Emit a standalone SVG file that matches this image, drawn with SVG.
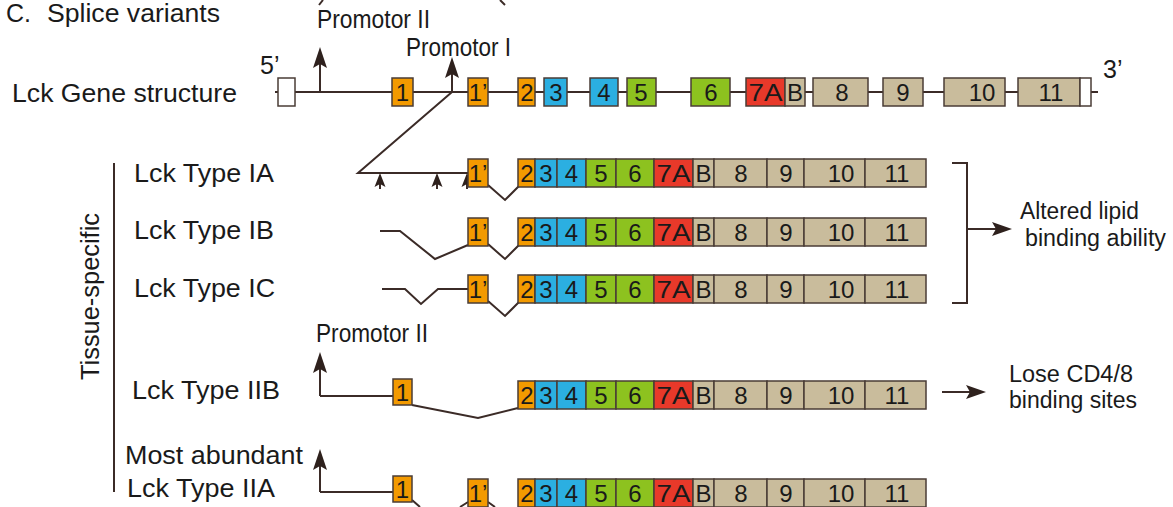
<svg xmlns="http://www.w3.org/2000/svg" xmlns:xlink="http://www.w3.org/1999/xlink" width="1173" height="507" viewBox="0 0 1173 507">
<style>
text{font-family:"Liberation Sans",Arial,sans-serif;fill:#1a1a1a}
.lab{font-size:25px}
.sm{font-size:23px}
.num{font-size:24px;text-anchor:middle}
.ln{fill:none;stroke:#3b2b27;stroke-width:2}
.box{stroke:#4a3c36;stroke-width:1.5}
.o{fill:#f39a00}.b{fill:#2bafe1}.g{fill:#8dc21f}.r{fill:#e8392a}.t{fill:#c9bc9c}.w{fill:#fff}
.ah{fill:#2e211d}
</style>
<defs>
<g id="tail">
<rect class="box o" x="518" y="0" width="17" height="28"/>
<rect class="box b" x="535" y="0" width="22" height="28"/>
<rect class="box b" x="557" y="0" width="29" height="28"/>
<rect class="box g" x="586" y="0" width="30" height="28"/>
<rect class="box g" x="616" y="0" width="38" height="28"/>
<rect class="box r" x="654" y="0" width="39" height="28"/>
<rect class="box t" x="693" y="0" width="21" height="28"/>
<rect class="box t" x="714" y="0" width="53" height="28"/>
<rect class="box t" x="767" y="0" width="37" height="28"/>
<rect class="box t" x="804" y="0" width="61" height="28"/>
<rect class="box t" x="865" y="0" width="61" height="28"/>
<text class="num" x="527" y="23">2</text>
<text class="num" x="546" y="23">3</text>
<text class="num" x="571.5" y="23">4</text>
<text class="num" x="601" y="23">5</text>
<text class="num" x="635" y="23">6</text>
<text class="num" x="673.5" y="23" textLength="34" lengthAdjust="spacingAndGlyphs">7A</text>
<text class="num" x="703.5" y="23">B</text>
<text class="num" x="741" y="23">8</text>
<text class="num" x="786" y="23">9</text>
<text class="num" x="841" y="23">10</text>
<text class="num" x="897" y="23">11</text>
</g>
<g id="ex1p">
<rect class="box o" x="468" y="0" width="20" height="28"/>
<text class="num" x="478" y="23">1’</text>
</g>
</defs>

<g id="title">
<text class="lab" x="6" y="22" font-size="26">C.</text>
<text class="lab" x="47" y="22" font-size="26" textLength="173" lengthAdjust="spacingAndGlyphs">Splice variants</text>
</g>

<g id="fragments">
<line class="ln" x1="323" y1="0" x2="319" y2="5" stroke-width="1.5"/>
<line class="ln" x1="500" y1="0" x2="505" y2="5" stroke-width="1.5"/>
</g>

<g id="gene-structure">
<text class="lab" x="12" y="102" textLength="225" lengthAdjust="spacingAndGlyphs">Lck Gene structure</text>
<text class="lab" x="260" y="74">5’</text>
<text class="lab" x="1103" y="78">3’</text>
<line class="ln" x1="275" y1="92" x2="1098" y2="92"/>
<rect class="box w" x="278" y="78" width="17" height="28"/>
<rect class="box o" x="392" y="78" width="21" height="28"/>
<rect class="box o" x="468" y="78" width="20" height="28"/>
<rect class="box o" x="518" y="78" width="17" height="28"/>
<rect class="box b" x="544" y="78" width="23" height="28"/>
<rect class="box b" x="590" y="78" width="28" height="28"/>
<rect class="box g" x="627" y="78" width="29" height="28"/>
<rect class="box g" x="691" y="78" width="39" height="28"/>
<rect class="box r" x="746" y="78" width="39" height="28"/>
<rect class="box t" x="785" y="78" width="20" height="28"/>
<rect class="box t" x="813" y="78" width="55" height="28"/>
<rect class="box t" x="883" y="78" width="40" height="28"/>
<rect class="box t" x="944" y="78" width="61" height="28"/>
<rect class="box t" x="1018" y="78" width="62" height="28"/>
<rect class="box w" x="1080" y="78" width="11" height="28"/>
<text class="num" x="402.5" y="101">1</text>
<text class="num" x="478" y="101">1’</text>
<text class="num" x="527" y="101">2</text>
<text class="num" x="556" y="101">3</text>
<text class="num" x="604" y="101">4</text>
<text class="num" x="641" y="101">5</text>
<text class="num" x="711" y="101">6</text>
<text class="num" x="765.5" y="101" textLength="34" lengthAdjust="spacingAndGlyphs">7A</text>
<text class="num" x="795" y="101">B</text>
<text class="num" x="842" y="101">8</text>
<text class="num" x="903" y="101">9</text>
<text class="num" x="982" y="101">10</text>
<text class="num" x="1051" y="101">11</text>
</g>

<g id="promotor-II-top">
<line class="ln" x1="320" y1="92" x2="320" y2="60"/>
<path class="ah" d="M320,47 L327,68 L320,64 L313,68 Z"/>
<text class="lab" x="317" y="28" textLength="113" lengthAdjust="spacingAndGlyphs">Promotor II</text>
</g>
<g id="promotor-I">
<line class="ln" x1="452" y1="92" x2="452" y2="70"/>
<path class="ah" d="M452,57 L459,78 L452,74 L445,78 Z"/>
<text class="lab" x="406" y="56" textLength="105" lengthAdjust="spacingAndGlyphs">Promotor I</text>
</g>

<g id="connectors">
<path class="ln" d="M452,92 L358,173 L468,173"/>
<path class="ln" d="M488,185 L505,200 L519,186"/>
<path class="ln" d="M380,231 L400,231 L435,259 L468,245"/>
<path class="ln" d="M488,244 L505,259 L519,245"/>
<path class="ln" d="M382,289 L405,289 L421,304 L438,289 L468,289"/>
<path class="ln" d="M488,301 L505,316 L519,302"/>
<path class="ln" d="M320,396 L320,364 M320,396 L393,396"/>
<path class="ln" d="M412,405 L478,418 L518,408"/>
<path class="ln" d="M320,492 L320,461 M320,492 L393,492"/>
<path class="ln" d="M412,500 L420,507 M460,507 L468,502 M488,502 L495,507" stroke-width="1.5"/>
<path class="ln" d="M114,163 L114,492"/>
<path class="ln" d="M952,163 L967,163 L967,303 L952,303 M967,229 L1000,229"/>
<path class="ah" d="M1012,229 L992,222 L996,229 L992,236 Z"/>
<line class="ln" x1="942" y1="392" x2="975" y2="392"/>
<path class="ah" d="M986,392 L966,385 L970,392 L966,399 Z"/>
<path class="ah" d="M320,352 L327,373 L320,369 L313,373 Z"/>
<path class="ah" d="M320,449 L327,470 L320,466 L313,470 Z"/>
<g id="ia-arrows">
<path class="ln" d="M380,182 V189 M437,182 V189 M467,182 V189" stroke-width="1.5"/>
<path class="ah" d="M380,173 L385.5,187 L380,184 L374.5,187 Z"/>
<path class="ah" d="M437,173 L442.5,187 L437,184 L431.5,187 Z"/>
<path class="ah" d="M467,173 L472.5,187 L467,184 L461.5,187 Z"/>
</g>
</g>

<g id="tissue-specific">
<text class="lab" transform="translate(99,380) rotate(-90)" font-size="27" textLength="167" lengthAdjust="spacingAndGlyphs">Tissue-specific</text>
</g>

<g id="type-IA">
<text class="lab" x="134" y="182" textLength="140" lengthAdjust="spacingAndGlyphs">Lck Type IA</text>
<use xlink:href="#ex1p" href="#ex1p" y="159"/>
<use xlink:href="#tail" href="#tail" y="159"/>
</g>
<g id="type-IB">
<text class="lab" x="134" y="239" textLength="140" lengthAdjust="spacingAndGlyphs">Lck Type IB</text>
<use xlink:href="#ex1p" href="#ex1p" y="218"/>
<use xlink:href="#tail" href="#tail" y="218"/>
</g>
<g id="type-IC">
<text class="lab" x="134" y="297" textLength="141" lengthAdjust="spacingAndGlyphs">Lck Type IC</text>
<use xlink:href="#ex1p" href="#ex1p" y="275"/>
<use xlink:href="#tail" href="#tail" y="275"/>
</g>
<g id="altered">
<text class="sm" x="1020" y="219" textLength="119" lengthAdjust="spacingAndGlyphs">Altered lipid</text>
<text class="sm" x="1025" y="246" textLength="141" lengthAdjust="spacingAndGlyphs">binding ability</text>
</g>
<g id="type-IIB">
<text class="lab" x="316" y="342" textLength="112" lengthAdjust="spacingAndGlyphs">Promotor II</text>
<text class="lab" x="132" y="399" textLength="148" lengthAdjust="spacingAndGlyphs">Lck Type IIB</text>
<rect class="box o" x="393" y="379" width="19" height="26"/>
<text class="num" x="402.5" y="401">1</text>
<use xlink:href="#tail" href="#tail" y="381"/>
</g>
<g id="lose">
<text class="sm" x="1009" y="382" textLength="124" lengthAdjust="spacingAndGlyphs">Lose CD4/8</text>
<text class="sm" x="1009" y="408" textLength="128" lengthAdjust="spacingAndGlyphs">binding sites</text>
</g>
<g id="type-IIA">
<text class="lab" x="125" y="464" textLength="178" lengthAdjust="spacingAndGlyphs">Most abundant</text>
<text class="lab" x="127" y="497" textLength="148" lengthAdjust="spacingAndGlyphs">Lck Type IIA</text>
<rect class="box o" x="393" y="476" width="19" height="26"/>
<text class="num" x="402.5" y="498">1</text>
<use xlink:href="#ex1p" href="#ex1p" y="479"/>
<use xlink:href="#tail" href="#tail" y="479"/>
</g>
</svg>
